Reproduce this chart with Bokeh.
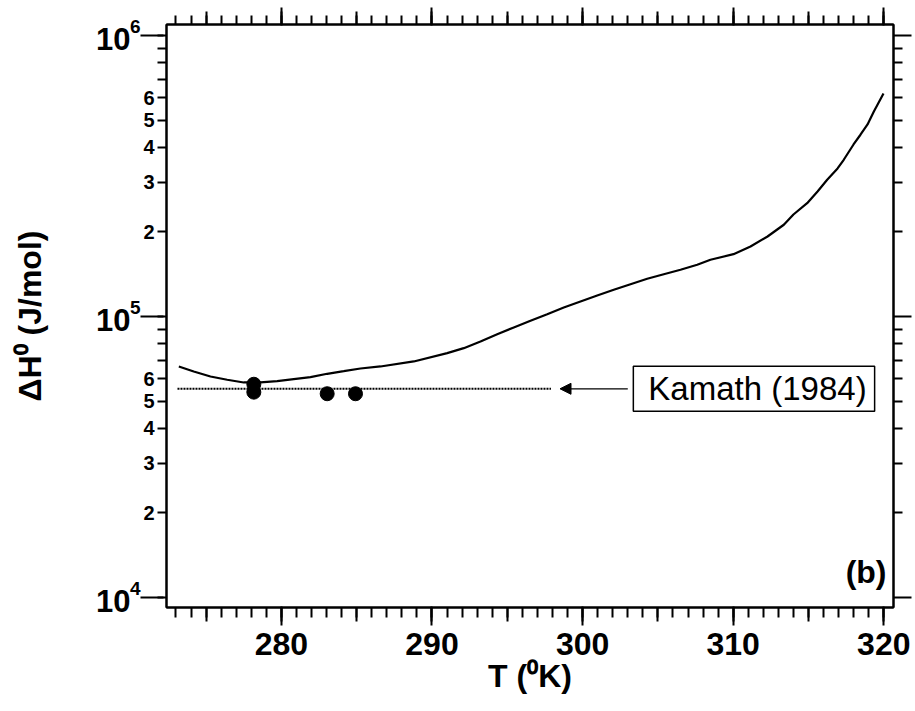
from bokeh.plotting import figure
from bokeh.models import (LogAxis, LinearAxis, FixedTicker, Label, Arrow, NormalHead,
                          Range1d, AllLabels)
from bokeh.embed import file_html
from bokeh.resources import INLINE

# ---------------- data ----------------
T_CURVE = [273.19, 274.18, 275.29, 276.40, 277.50, 278.61, 279.72, 280.82, 281.93,
           283.04, 284.14, 285.25, 286.58, 288.79, 291.01, 292.11, 293.22, 294.33,
           295.43, 296.54, 297.65, 298.75, 299.86, 300.97, 302.07, 303.18, 304.29,
           305.39, 306.50, 307.61, 308.49, 310.02, 311.15, 312.28, 313.36, 314.00,
           314.91, 315.60, 316.24, 316.93, 317.34, 317.99, 318.45, 318.92, 319.34,
           319.98]
H_CURVE = [66400, 63730, 61180, 59540, 58240, 58240, 58870, 59840, 60810,
           62530, 63880, 65300, 66400, 69180, 74040, 77140, 81470, 86500,
           91400, 96540, 101900, 107650, 113100, 118760, 124450, 130290, 136200,
           141410, 146600, 152760, 159160, 166620, 177500, 192600, 212070, 230700,
           253100, 278500, 306600, 336300, 361200, 409400, 443400, 482300, 536400,
           621800]
T_POINTS = [278.17, 278.17, 283.04, 284.92]
H_POINTS = [57400, 53800, 53100, 53100]
KAMATH_T = [273.1, 297.9]
KAMATH_H = 55300
KAMATH_TEXT = "Kamath (1984)"
PANEL_TEXT = "(b)"

X_MAJOR = [280, 290, 300, 310, 320]
X_MID = [275, 285, 295, 305, 315]
X_MINOR = list(range(273, 321))
Y_DECADES = [10**4, 10**5, 10**6]
Y_DECADE_BASE = ["10", "10", "10"]
Y_DECADE_EXP = ["4", "5", "6"]
Y_DIGITS = [2, 3, 4, 5, 6]
Y_DIGIT_LABELS = ["2", "3", "4", "5", "6"]
X_LABEL = "T (\u2070K)"
Y_LABEL = "\u0394H\u2070 (J/mol)"

# ---------------- layout constants ----------------
X_START, X_END = 272.371, 320.644
LOG_START, LOG_END = 3.9644, 6.0391
Y_START, Y_END = 10 ** LOG_START, 10 ** LOG_END
PX_PER_DECADE = 281.0
EXP_RAISE = 9 / PX_PER_DECADE      # superscript sits above the tick
BASE_DROP = 4 / PX_PER_DECADE      # "10" sits a bit below the tick
FONT = "Liberation Sans"

y_minor = [d * dec for dec in (10**4, 10**5) for d in range(2, 10)]
y_digit_ticks = [d * dec for dec in (10**4, 10**5) for d in Y_DIGITS]
y_digit_over = {d * dec: lab for dec in (10**4, 10**5)
                for d, lab in zip(Y_DIGITS, Y_DIGIT_LABELS)}
y_left_minor = sorted(set(Y_DECADES + [d * dec for dec in (10**4, 10**5) for d in (7, 8, 9)]))
exp_ticks = [v * 10 ** EXP_RAISE for v in Y_DECADES]
exp_over = {t: lab for t, lab in zip(exp_ticks, Y_DECADE_EXP)}
base_ticks = [v / 10 ** BASE_DROP for v in Y_DECADES]
base_over = {t: lab for t, lab in zip(base_ticks, Y_DECADE_BASE)}
x_five = sorted(X_MAJOR + X_MID)

p = figure(width=915, height=711, x_range=Range1d(X_START, X_END),
           y_range=Range1d(Y_START, Y_END), y_axis_type="log",
           output_backend="svg", toolbar_location=None,
           min_border_left=166, min_border_right=22, min_border_top=24,
           min_border_bottom=104, background_fill_color="white",
           border_fill_color="white")
p.grid.visible = False
p.outline_line_color = "black"
p.outline_line_width = 2


def base(ax, line=True):
    ax.axis_line_width = 2
    ax.axis_line_color = "black" if line else None
    ax.major_tick_line_width = 2
    ax.minor_tick_line_width = 2
    ax.major_tick_in = 0
    ax.minor_tick_in = 0
    ax.major_label_text_font = FONT
    ax.major_label_text_font_style = "bold"
    ax.major_label_text_color = "black"
    ax.major_label_policy = AllLabels()
    ax.axis_label_text_font = FONT
    ax.axis_label_text_font_style = "bold"
    ax.axis_label_text_color = "black"


def silent(ax, ticks):
    ax.major_label_overrides = {t: "" for t in ticks}
    ax.major_label_text_color = None
    ax.major_label_text_font_size = "1px"
    ax.major_label_standoff = 0


# ---- bottom: inner axis (5-unit and 1-unit ticks), outer axis (10-unit ticks + labels)
xb0 = p.xaxis[0]
base(xb0)
xb0.ticker = FixedTicker(ticks=x_five, minor_ticks=X_MINOR)
silent(xb0, x_five)
xb0.major_tick_out = 14
xb0.minor_tick_out = 10

xb1 = LinearAxis(ticker=FixedTicker(ticks=X_MAJOR, minor_ticks=[]))
base(xb1, line=False)
xb1.major_tick_in = 15
xb1.major_tick_out = 4
xb1.minor_tick_out = 0
xb1.major_label_text_font_size = "32px"
xb1.major_label_standoff = 7
xb1.axis_label = X_LABEL
xb1.axis_label_text_font_size = "32px"
xb1.axis_label_standoff = 0
p.add_layout(xb1, "below")

# ---- top: same structure, no labels
xt0 = LinearAxis(ticker=FixedTicker(ticks=x_five, minor_ticks=X_MINOR))
base(xt0)
silent(xt0, x_five)
xt0.major_tick_out = 13
xt0.minor_tick_out = 9
p.add_layout(xt0, "above")

xt1 = LinearAxis(ticker=FixedTicker(ticks=X_MAJOR, minor_ticks=[]))
base(xt1, line=False)
silent(xt1, X_MAJOR)
xt1.major_tick_in = 14
xt1.major_tick_out = 4
xt1.minor_tick_out = 0
p.add_layout(xt1, "above")

# ---- left: inner digits axis, decade tick extension, exponent labels, "10" labels + title
yl0 = p.yaxis[0]
base(yl0)
yl0.ticker = FixedTicker(ticks=y_digit_ticks, minor_ticks=y_left_minor)
yl0.major_label_overrides = y_digit_over
yl0.major_tick_out = 9
yl0.minor_tick_out = 9
yl0.major_label_text_font_size = "20px"
yl0.major_label_standoff = 3

yl1 = LogAxis(ticker=FixedTicker(ticks=Y_DECADES, minor_ticks=[]))
base(yl1, line=False)
silent(yl1, Y_DECADES)
yl1.major_tick_in = 23
yl1.major_tick_out = 0
yl1.minor_tick_out = 0
p.add_layout(yl1, "left")

yl2 = LogAxis(ticker=FixedTicker(ticks=exp_ticks, minor_ticks=[]))
base(yl2, line=False)
yl2.major_label_overrides = exp_over
yl2.major_tick_out = 0
yl2.minor_tick_out = 0
yl2.major_tick_line_color = None
yl2.major_label_text_font_size = "19px"
yl2.major_label_standoff = 0
p.add_layout(yl2, "left")

yl3 = LogAxis(ticker=FixedTicker(ticks=base_ticks, minor_ticks=[]))
base(yl3, line=False)
yl3.major_label_overrides = base_over
yl3.major_tick_out = 0
yl3.minor_tick_out = 0
yl3.major_tick_line_color = None
yl3.major_label_text_font_size = "31px"
yl3.major_label_standoff = -4
yl3.axis_label = Y_LABEL
yl3.axis_label_text_font_size = "32px"
yl3.axis_label_standoff = 45
p.add_layout(yl3, "left")

# ---- right: ticks only
yr = LogAxis(ticker=FixedTicker(ticks=Y_DECADES, minor_ticks=y_minor))
base(yr)
silent(yr, Y_DECADES)
yr.major_tick_out = 18
yr.minor_tick_out = 9
p.add_layout(yr, "right")

# ---------------- glyphs ----------------
p.line(T_CURVE, H_CURVE, line_color="black", line_width=2.2)
p.line(KAMATH_T, [KAMATH_H] * len(KAMATH_T), line_color="black", line_width=2,
       line_dash="2 1")
p.scatter(T_POINTS, H_POINTS, size=14, fill_color="black", line_color="black")

p.add_layout(Arrow(end=NormalHead(size=11, fill_color="black", line_color="black", line_width=1),
                   x_start=303.0, y_start=KAMATH_H, x_end=298.5, y_end=KAMATH_H,
                   line_color="black", line_width=1.2))

p.add_layout(Label(x=311.38, y=KAMATH_H, text=KAMATH_TEXT, text_align="center",
                   text_baseline="middle", text_font=FONT, text_font_size="33px",
                   text_color="black", border_line_color="black", border_line_width=1.5,
                   background_fill_color="white", padding=(15, 8, 4, 4)))

p.add_layout(Label(x=320.18, y=10 ** 4.025, text=PANEL_TEXT, text_align="right",
                   text_baseline="bottom", text_font=FONT, text_font_size="32px",
                   text_font_style="bold", text_color="black"))

open("out.html", "w").write(file_html(p, INLINE))
